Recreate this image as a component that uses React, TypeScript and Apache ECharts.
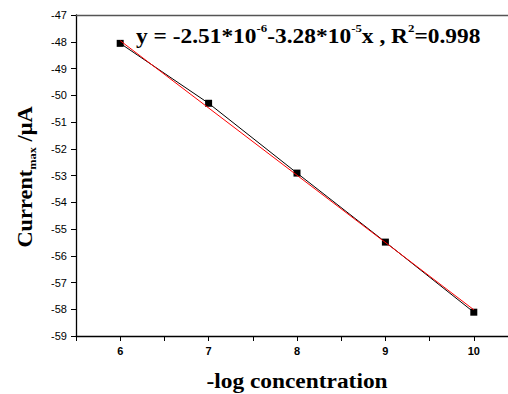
import React, { useEffect, useRef } from "react";
import * as echarts from "echarts";

const concentration = [6, 7, 8, 9, 10];
const current = [-48.06, -50.3, -52.91, -55.49, -58.11];
const fitX = [6, 10];
const fitY = [-47.96, -58.02];
const equationParts = ["y = -2.51*10", "-6", "-3.28*10", "-5", "x , R", "2", "=0.998"];
const yTitle = ["Current", "max", " /μA"];
const xTitle = "-log concentration";

const SERIF = "Liberation Serif, Times New Roman, serif";
const SANS = "Liberation Sans, Arial, sans-serif";

export default function App() {
  const ref = useRef<HTMLDivElement>(null);
  useEffect(() => {
    document.body.style.margin = "0";
    const chart = echarts.init(ref.current!, null, { renderer: "svg" });
    const rich = {
      a: { fontFamily: SERIF, fontWeight: "bold", fontSize: 20, lineHeight: 24, color: "#000", verticalAlign: "bottom" },
      s: { fontFamily: SERIF, fontWeight: "bold", fontSize: 11, lineHeight: 24, color: "#000", verticalAlign: "top" },
    };
    const eq = equationParts
      .map((p, i) => (i % 2 === 0 ? `{a|${p}}` : `{s|${p}}`))
      .join("");
    chart.setOption({
      animation: false,
      grid: { left: 76, top: 15, width: 442, bottom: 58, outerBoundsMode: "none", containLabel: false },
      xAxis: [
        {
          type: "value",
          min: 5.5,
          max: 10.5,
          interval: 0.5,
          axisLine: { show: true, lineStyle: { color: "#000", width: 1.3 } },
          axisTick: { show: true, inside: false, length: 5, lineStyle: { color: "#000" }, interval: 0 },
          axisLabel: {
            margin: 9,
            fontFamily: SANS,
            fontWeight: "bold",
            fontSize: 11,
            color: "#000",
            formatter: (v: number) => (Number.isInteger(v) && v >= 6 && v <= 10 ? String(v) : ""),
          },
          splitLine: { show: false },
        },
        {
          type: "value",
          position: "top",
          min: 5.5,
          max: 10.5,
          axisLine: { show: true, lineStyle: { color: "#555", width: 1.3 } },
          axisTick: { show: false },
          axisLabel: { show: false },
          splitLine: { show: false },
        },
      ],
      yAxis: {
        type: "value",
        min: -59,
        max: -47,
        interval: 1,
        axisLine: { show: true, lineStyle: { color: "#000", width: 1.3 } },
        axisTick: { show: true, inside: false, length: 5, lineStyle: { color: "#000" } },
        axisLabel: { margin: 9, fontFamily: SANS, fontSize: 11, color: "#000" },
        splitLine: { show: false },
      },
      series: [
        {
          type: "line",
          data: concentration.map((x, i) => [x, current[i]]),
          symbol: "rect",
          symbolSize: 7,
          itemStyle: { color: "#000" },
          lineStyle: { color: "#000", width: 1 },
          z: 2,
        },
        {
          type: "line",
          data: fitX.map((x, i) => [x, fitY[i]]),
          symbol: "none",
          lineStyle: { color: "#ff0000", width: 1 },
          z: 3,
        },
      ],
      graphic: [
        {
          type: "text",
          x: 136,
          y: 23,
          scaleX: 1.17,
          style: { text: eq, rich, align: "left", verticalAlign: "top" },
        },
        {
          type: "text",
          x: 23,
          y: 177,
          rotation: Math.PI / 2,
          scaleX: 1.12,
          style: {
            text: `{a|${yTitle[0]}}{b|${yTitle[1]}}{a|${yTitle[2]}}`,
            align: "center",
            verticalAlign: "middle",
            rich: {
              a: rich.a,
              b: { fontFamily: SERIF, fontWeight: "bold", fontSize: 11, lineHeight: 24, color: "#000", verticalAlign: "bottom", padding: [0, 0, -3, 0] },
            },
          },
        },
        {
          type: "text",
          x: 297,
          y: 382,
          scaleX: 1.17,
          style: {
            text: xTitle,
            align: "center",
            verticalAlign: "middle",
            fontFamily: SERIF,
            fontWeight: "bold",
            fontSize: 20,
            fill: "#000",
          },
        },
      ],
    });
    return () => chart.dispose();
  }, []);
  return <div ref={ref} style={{ width: 508, height: 394 }} />;
}
